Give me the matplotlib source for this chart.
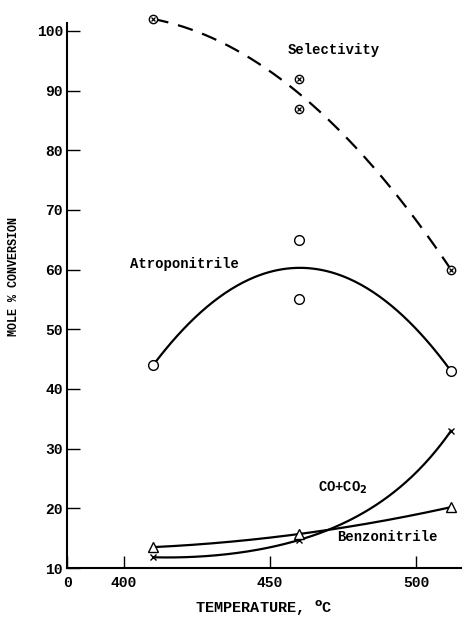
import numpy as np
import matplotlib
matplotlib.use("Agg")
import matplotlib.pyplot as plt

plt.rcParams["font.family"] = ["Liberation Mono", "DejaVu Sans Mono"]
plt.rcParams["font.weight"] = "bold"
plt.rcParams["axes.labelweight"] = "bold"
plt.rcParams["mathtext.default"] = "bf"

# data
temp = [410, 460, 460, 512]
selectivity = [102, 92, 87, 60]
atroponitrile = [44, 65, 55, 43]

temp3 = [410, 460, 512]
co_co2 = [11.8, 14.7, 33.0]
benzonitrile = [13.5, 15.7, 20.2]

x_ticks = [380.5, 400, 450, 500]
x_labels = ["0", "400", "450", "500"]
y_ticks = [10, 20, 30, 40, 50, 60, 70, 80, 90, 100]

fig = plt.figure(figsize=(4.66, 6.17), dpi=100)
ax = fig.add_axes([0.1438, 0.0794, 0.846, 0.884])

xs = np.linspace(410, 512, 200)

# smooth curves through the points
p_sel = np.polyfit(temp, selectivity, 2)
ax.plot(xs, np.polyval(p_sel, xs), color="black", lw=1.6, dashes=(7, 4.5), clip_on=False)
p_atr = np.polyfit([410, 460, 512], [44, 60.3, 43], 2)
ax.plot(xs, np.polyval(p_atr, xs), color="black", lw=1.6)
p_co = np.polyfit(temp3, np.log(co_co2), 2)
ax.plot(xs, np.exp(np.polyval(p_co, xs)), color="black", lw=1.6)
p_bz = np.polyfit(temp3, benzonitrile, 2)
ax.plot(xs, np.polyval(p_bz, xs), color="black", lw=1.6)

# markers
ax.plot(temp, selectivity, "o", ms=6, mfc="white", mec="black", mew=1.0, clip_on=False, zorder=5)
ax.plot(temp, selectivity, "x", ms=3.5, color="black", mew=0.9, clip_on=False, zorder=6)
ax.plot(temp, atroponitrile, "o", ms=7, mfc="white", mec="black", mew=1.0, zorder=5)
ax.plot(temp3, co_co2, "x", ms=5, color="black", mew=1.0, zorder=5)
ax.plot(temp3, benzonitrile, "^", ms=6.5, mfc="white", mec="black", mew=1.0, zorder=5)

# curve labels
ax.text(472, 95.6, "Selectivity", ha="center", va="bottom", fontsize=10)
ax.text(402, 59.7, "Atroponitrile", ha="left", va="bottom", fontsize=10)
ax.text(466.5, 22, "CO+CO$_2$", ha="left", va="bottom", fontsize=10)
ax.text(473, 14, "Benzonitrile", ha="left", va="bottom", fontsize=10)

ax.set_xlim(380.5, 515.5)
ax.set_ylim(10, 101.4)
ax.set_xticks(x_ticks)
ax.set_xticklabels(x_labels)
ax.set_yticks(y_ticks)
ax.tick_params(axis="both", direction="in", length=9, width=1.0, labelsize=10.5)
ax.tick_params(axis="x", pad=6)
ax.tick_params(axis="y", pad=3)
ax.spines["top"].set_visible(False)
ax.spines["right"].set_visible(False)
ax.spines["left"].set_linewidth(1.5)
ax.spines["bottom"].set_linewidth(1.5)

ax.set_xlabel("TEMPERATURE, $^{o}$C", fontsize=11, labelpad=6)
ax.set_ylabel("MOLE % CONVERSION", fontsize=8.5)
ax.yaxis.set_label_coords(-0.118, 0.535)

fig.savefig("out.png", dpi=100)
